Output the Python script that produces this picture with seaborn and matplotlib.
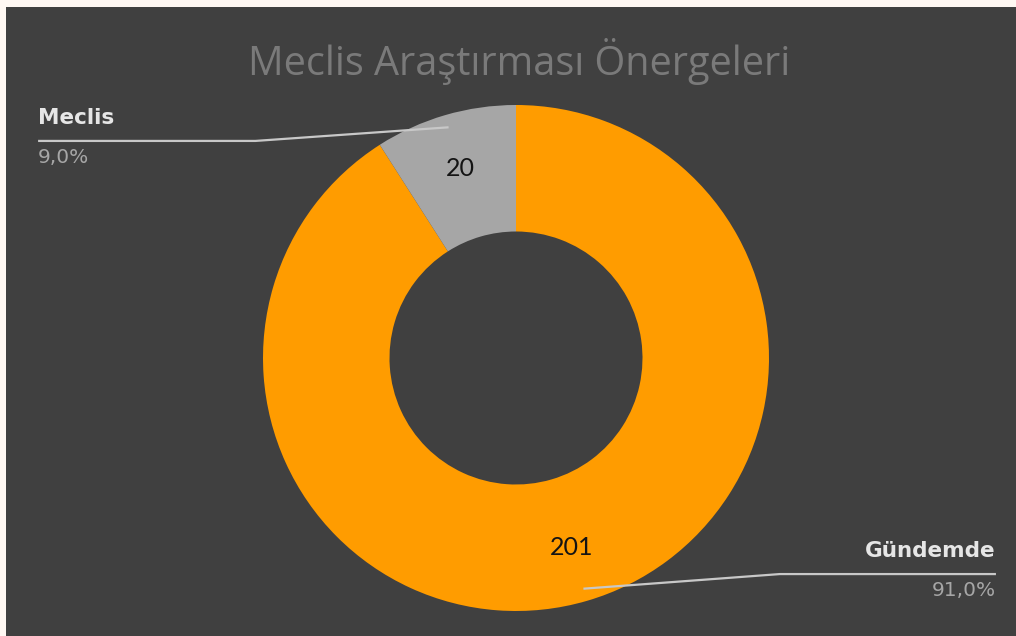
import numpy as np
import matplotlib
matplotlib.use("Agg")
import matplotlib.pyplot as plt
import seaborn as sns

# ==========================================
# Data
# ==========================================
title = "Meclis Araştırması Önergeleri"
categories = ["Gündemde", "Meclis"]
counts = [201, 20]
percent_labels = ["91,0%", "9,0%"]
colors = ["#FF9C00", "#A6A6A6"]

bg = "#404040"

sns.set_style("dark")
plt.rcParams['font.family'] = ['Lato', 'DejaVu Sans']

fig = plt.figure(figsize=(10.16, 6.36), dpi=100)
fig.patch.set_facecolor("#FFF8F3")

# dark chart area (thin light margin on top and left like the screenshot)
bg_ax = fig.add_axes([6 / 1016, 0, 1010 / 1016, 629 / 636])
bg_ax.set_facecolor(bg)
bg_ax.set_xticks([])
bg_ax.set_yticks([])
for s in bg_ax.spines.values():
    s.set_visible(False)

bg_ax.text(0.511, 0.903, title, transform=fig.transFigure, ha="center", va="center",
           fontsize=28.5, color="#7A7A7A", family=["Open Sans", "DejaVu Sans"])

# ==========================================
# Donut
# ==========================================
R = 253
cx, cy = 516, 358
ax = fig.add_axes([(cx - R) / 1016, (636 - cy - R) / 636, 2 * R / 1016, 2 * R / 636])
ax.set_facecolor("none")
ax.axis("off")

wedges, _ = ax.pie(counts, colors=colors, startangle=90, counterclock=False, radius=1,
                   wedgeprops=dict(width=0.5, edgecolor="none"))
ax.set_xlim(-1, 1)
ax.set_ylim(-1, 1)
ax.set_aspect("equal")

# values inside the ring
for w, v in zip(wedges, counts):
    mid = np.deg2rad((w.theta1 + w.theta2) / 2)
    ax.text(0.78 * np.cos(mid), 0.78 * np.sin(mid), str(v), ha="center", va="center",
            fontsize=18, color="#141414")

# leader lines and outside labels
label_pos = {
    "Meclis": dict(elbow=(-1.03, 0.858), end=-1.889, ha="left"),
    "Gündemde": dict(elbow=(1.043, -0.854), end=1.897, ha="right"),
}
for w, name, pct in zip(wedges, categories, percent_labels):
    mid = np.deg2rad((w.theta1 + w.theta2) / 2)
    ax_, ay_ = 0.95 * np.cos(mid), 0.95 * np.sin(mid)
    p = label_pos[name]
    ex, ey = p["elbow"]
    ax.plot([ax_, ex, p["end"]], [ay_, ey, ey], color="#C8C8C8", lw=1.6,
            clip_on=False, solid_capstyle="butt")
    ax.text(p["end"], ey + 0.092, name, ha=p["ha"], va="center", fontsize=15.5,
            fontweight="bold", color="#E6E6E6", family=["DejaVu Sans"])
    ax.text(p["end"], ey - 0.066, pct, ha=p["ha"], va="center", fontsize=14.5,
            color="#A6A6A6", family=["DejaVu Sans"])

fig.savefig("out.png", dpi=100, facecolor=fig.get_facecolor())
